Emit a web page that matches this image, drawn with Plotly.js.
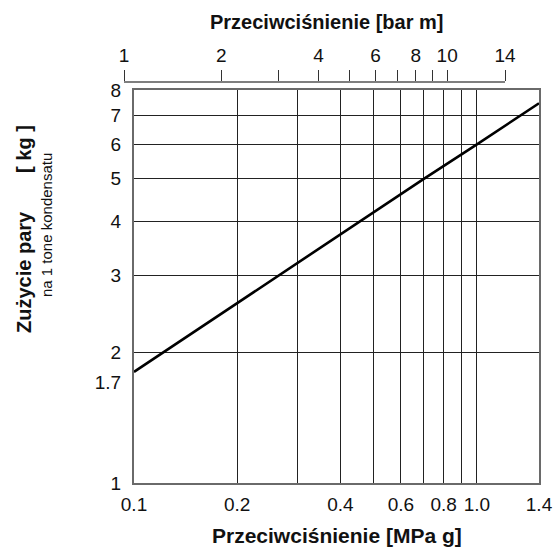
<!DOCTYPE html>
<html>
<head>
<meta charset="utf-8">
<script src="https://cdn.plot.ly/plotly-3.0.1.min.js"></script>
<style>html,body{margin:0;padding:0;background:#fff;}#chart{width:555px;height:550px;}</style>
</head>
<body>
<div id="chart"></div>
<script>
// Data
const pressureMPa = [0.1, 0.2, 0.4, 0.7, 1.0, 1.517];
const steamKg = [1.8, 2.59, 3.72, 5.0, 6.0, 7.46];

// Bottom axis (MPa g)
const xTickVals = [0.1, 0.2, 0.4, 0.6, 0.8, 1.0, 1.517];
const xTickText = ['0.1', '0.2', '0.4', '0.6', '0.8', '1.0', '1.4'];
const xGridVals = [0.2, 0.3, 0.4, 0.5, 0.6, 0.7, 0.8, 0.9, 1.0];

// Left axis (kg)
const yTickVals = [1, 1.7, 2, 3, 4, 5, 6, 7, 8];
const yTickText = ['1', '1.7', '2', '3', '4', '5', '6', '7', '8'];
const yGridVals = [2, 3, 4, 5, 6, 7];

// Top axis (bar m)
const topTickVals = [1, 2, 3, 4, 5, 6, 7, 8, 9, 10, 15.1];
const topTickText = ['1', '2', '', '4', '', '6', '', '8', '', '10', '14'];

const FONT = 'Liberation Sans, Arial, sans-serif';
const NB = '\u00a0';

const traces = [
  {
    x: pressureMPa, y: steamKg, type: 'scatter', mode: 'lines',
    line: {color: '#000', width: 2.6}, xaxis: 'x', yaxis: 'y',
    hoverinfo: 'skip', showlegend: false
  },
  {
    x: [topTickVals[0], topTickVals[topTickVals.length - 1]], y: [null, null],
    type: 'scatter', mode: 'lines', xaxis: 'x2', yaxis: 'y2',
    hoverinfo: 'skip', showlegend: false
  }
];

const topPos = (483 - 82) / 423;

const layout = {
  width: 555, height: 550,
  margin: {l: 124, r: 16, t: 60, b: 67, pad: 0},
  paper_bgcolor: '#fff', plot_bgcolor: 'rgba(0,0,0,0)',
  font: {family: FONT, size: 19, color: '#111'},
  showlegend: false,
  xaxis: {
    type: 'log', domain: [10 / 415, 1],
    range: [Math.log10(0.1), Math.log10(1.517)],
    tickmode: 'array', tickvals: xTickVals, ticktext: xTickText,
    ticks: '', showgrid: false, zeroline: false,
    showline: true, linecolor: '#6a6a6a', linewidth: 2, mirror: true,
    ticklabelstandoff: 3,
    tickfont: {family: FONT, size: 19, color: '#111'},
    minor: {tickmode: 'array', tickvals: xGridVals, showgrid: true, gridcolor: '#222', gridwidth: 1, ticks: ''},
    anchor: 'y', fixedrange: true
  },
  yaxis: {
    type: 'log', domain: [0, 393 / 423],
    range: [0, Math.log10(8)],
    tickmode: 'array', tickvals: yTickVals, ticktext: yTickText,
    ticks: '', showgrid: false, zeroline: false,
    showline: true, linecolor: '#6a6a6a', linewidth: 2, mirror: true,
    ticklabelstandoff: 7,
    tickfont: {family: FONT, size: 19, color: '#111'},
    minor: {tickmode: 'array', tickvals: yGridVals, showgrid: true, gridcolor: '#222', gridwidth: 1, ticks: ''},
    anchor: 'x', fixedrange: true
  },
  xaxis2: {
    type: 'log', domain: [0, 381 / 415],
    range: [0, Math.log10(15.1)],
    anchor: 'y2', side: 'top',
    tickmode: 'array', tickvals: topTickVals, ticktext: topTickText,
    ticks: 'outside', ticklen: 11, tickcolor: '#333', tickwidth: 1,
    showgrid: false, zeroline: false, showline: false,
    ticklabelstandoff: 0,
    tickfont: {family: FONT, size: 19, color: '#111'},
    fixedrange: true
  },
  yaxis2: {
    domain: [topPos - 0.001, topPos], anchor: 'x2', visible: false,
    showgrid: false, zeroline: false, showline: false, fixedrange: true
  },
  shapes: [
    {
      type: 'line', xref: 'x2 domain', yref: 'paper',
      x0: 0, x1: 1, y0: topPos, y1: topPos,
      line: {color: '#555', width: 1.5}
    }
  ],
  annotations: [
    {
      text: '<b>Przeciwciśnienie [bar m]</b>', xref: 'paper', yref: 'paper',
      x: (326 - 124) / 415, y: (483 - 22) / 423, xanchor: 'center', yanchor: 'middle',
      showarrow: false, font: {family: FONT, size: 20, color: '#111'}
    },
    {
      text: '<b>Przeciwciśnienie [MPa g]</b>', xref: 'paper', yref: 'paper',
      x: (337 - 124) / 415, y: (483 - 535) / 423, xanchor: 'center', yanchor: 'middle',
      showarrow: false, font: {family: FONT, size: 21, color: '#111'}
    },
    {
      text: '<b>Zużycie pary' + NB.repeat(7) + '[ kg ]</b>', xref: 'paper', yref: 'paper',
      x: (24 - 124) / 415, y: (483 - 229) / 423, xanchor: 'center', yanchor: 'middle',
      textangle: -90, showarrow: false, font: {family: FONT, size: 20, color: '#111'}
    },
    {
      text: 'na 1 tone kondensatu', xref: 'paper', yref: 'paper',
      x: (46 - 124) / 415, y: (483 - 225) / 423, xanchor: 'center', yanchor: 'middle',
      textangle: -90, showarrow: false, font: {family: FONT, size: 15, color: '#111'}
    }
  ]
};

Plotly.newPlot('chart', traces, layout, {staticPlot: true, displayModeBar: false});
</script>
</body>
</html>
